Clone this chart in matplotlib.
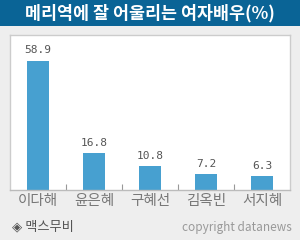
import matplotlib
matplotlib.use("Agg")
import matplotlib.pyplot as plt
from matplotlib.patches import Rectangle

plt.rcParams['font.family'] = ['Noto Sans CJK KR', 'DejaVu Sans']

title = "메리역에 잘 어울리는 여자배우(%)"
categories = ["이다해", "윤은혜", "구혜선", "김옥빈", "서지혜"]
values = [58.9, 16.8, 10.8, 7.2, 6.3]
source = "◈ 맥스무비"
credit = "copyright datanews"

W, H = 300, 240
fig = plt.figure(figsize=(W / 100, H / 100), dpi=100)
fig.patch.set_facecolor("#eeeeee")

# title bar
fig.patches.append(Rectangle((0, 1 - 26 / H), 1, 26 / H, transform=fig.transFigure,
                             facecolor="#0a6496", edgecolor="none", zorder=0))
fig.text(0.5, 1 - 13 / H, title, color="white", ha="center", va="center",
         fontsize=12.5, fontweight="bold")

ax = fig.add_axes([10 / W, 1 - 190 / H, 280 / W, 155 / H])
ax.set_facecolor("white")
x = range(len(categories))
ax.bar(x, values, width=0.41, color="#47a0d0", zorder=2)
for xi, v in zip(x, values):
    ax.text(xi, v + 2.5, f"{v}", ha="center", va="bottom", fontsize=8,
            color="#555555", family="DejaVu Sans Mono")
ax.set_xlim(-0.5, len(categories) - 0.5)
ax.set_ylim(0, 70.6)
ax.set_yticks([])
ax.set_xticks([i + 0.5 for i in range(len(categories) - 1)])
ax.set_xticklabels([])
ax.tick_params(axis="x", length=4, color="#999999", direction="in")
for xi, c in zip(x, categories):
    ax.text(xi, -1.8, c, ha="center", va="top", fontsize=10.5, color="#777777")
for s in ["left", "top", "right"]:
    ax.spines[s].set_color("#cccccc")
    ax.spines[s].set_linewidth(1)
ax.spines["bottom"].set_color("#bbbbbb")
ax.spines["bottom"].set_linewidth(1)

fig.text(12 / W, 1 - 227 / H, source, ha="left", va="center", fontsize=9.5, color="#555555")
fig.text(292 / W, 1 - 228 / H, credit, ha="right", va="center", fontsize=8.5, color="#999999")

fig.savefig("out.png", dpi=100, facecolor=fig.get_facecolor())
